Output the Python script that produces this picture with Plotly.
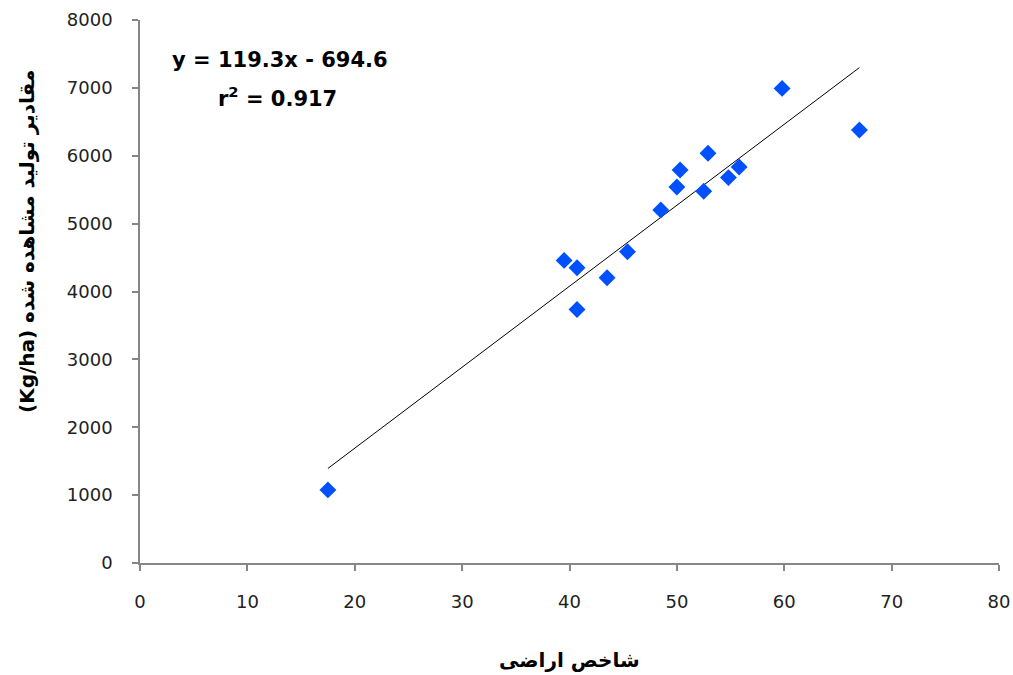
import plotly.graph_objects as go

# Data
land_index = [17.5, 39.5, 40.7, 40.7, 43.5, 45.4, 48.5, 50.0, 50.3, 52.5, 52.9, 54.8, 55.8, 59.8, 67.0]
observed_yield = [1077, 4458, 4350, 3734, 4202, 4586, 5200, 5539, 5790, 5476, 6037, 5678, 5834, 6992, 6380]

slope = 119.3
intercept = -694.6
r2 = 0.917

x_ticks = [0, 10, 20, 30, 40, 50, 60, 70, 80]
y_ticks = [0, 1000, 2000, 3000, 4000, 5000, 6000, 7000, 8000]

x_title = "شاخص اراضی"
y_title = "(Kg/ha) مقادیر تولید مشاهده شده"

fig = go.Figure()

x_min, x_max = min(land_index), max(land_index)
fig.add_trace(go.Scatter(
    x=[x_min, x_max],
    y=[slope * x_min + intercept, slope * x_max + intercept],
    mode="lines",
    line=dict(color="black", width=1),
    showlegend=False,
    hoverinfo="skip",
))

fig.add_trace(go.Scatter(
    x=land_index, y=observed_yield,
    mode="markers",
    marker=dict(symbol="diamond", size=13, color="#0050FF", line=dict(width=0)),
    showlegend=False,
))

axis_common = dict(
    showline=True, linecolor="#868686", linewidth=1.5,
    ticks="outside", ticklen=6, tickcolor="#868686", tickwidth=1.5,
    showgrid=False, zeroline=False, mirror=False, automargin=False,
    tickfont=dict(family="DejaVu Sans", size=18, color="#222222"),
)

fig.update_xaxes(range=[0, 80], tickvals=x_ticks, ticklabelstandoff=16, **axis_common)
fig.update_yaxes(range=[0, 8000], tickvals=y_ticks, ticklabelstandoff=16, **axis_common)

fig.add_annotation(
    xref="paper", yref="paper", x=0.5, y=0, yanchor="middle",
    yshift=-97, showarrow=False,
    text=f"<b>{x_title}</b>",
    font=dict(family="DejaVu Sans", size=20, color="black"),
)
fig.add_annotation(
    xref="paper", yref="paper", x=0, y=1, xanchor="center", yanchor="middle",
    xshift=-113, yshift=-222, showarrow=False, textangle=-90,
    text=f"<b>{y_title}</b>",
    font=dict(family="DejaVu Sans", size=20, color="black"),
)

fig.add_annotation(
    x=13.0, y=7410, xref="x", yref="y", showarrow=False,
    text=f"<b>y = {slope}x - {abs(intercept)}</b>",
    font=dict(family="DejaVu Sans", size=21, color="black"),
)
fig.add_annotation(
    x=12.85, y=6863, xref="x", yref="y", showarrow=False,
    text=f"<b>r<sup>2</sup> = {r2}</b>",
    font=dict(family="DejaVu Sans", size=21, color="black"),
)

fig.update_layout(
    width=1013, height=675,
    margin=dict(l=140, r=14, t=20, b=112),
    plot_bgcolor="white", paper_bgcolor="white",
)

fig.write_html(
    "out.html",
    config={"displayModeBar": False},
    post_script="document.body.style.margin='0';document.body.style.overflow='hidden';",
)
